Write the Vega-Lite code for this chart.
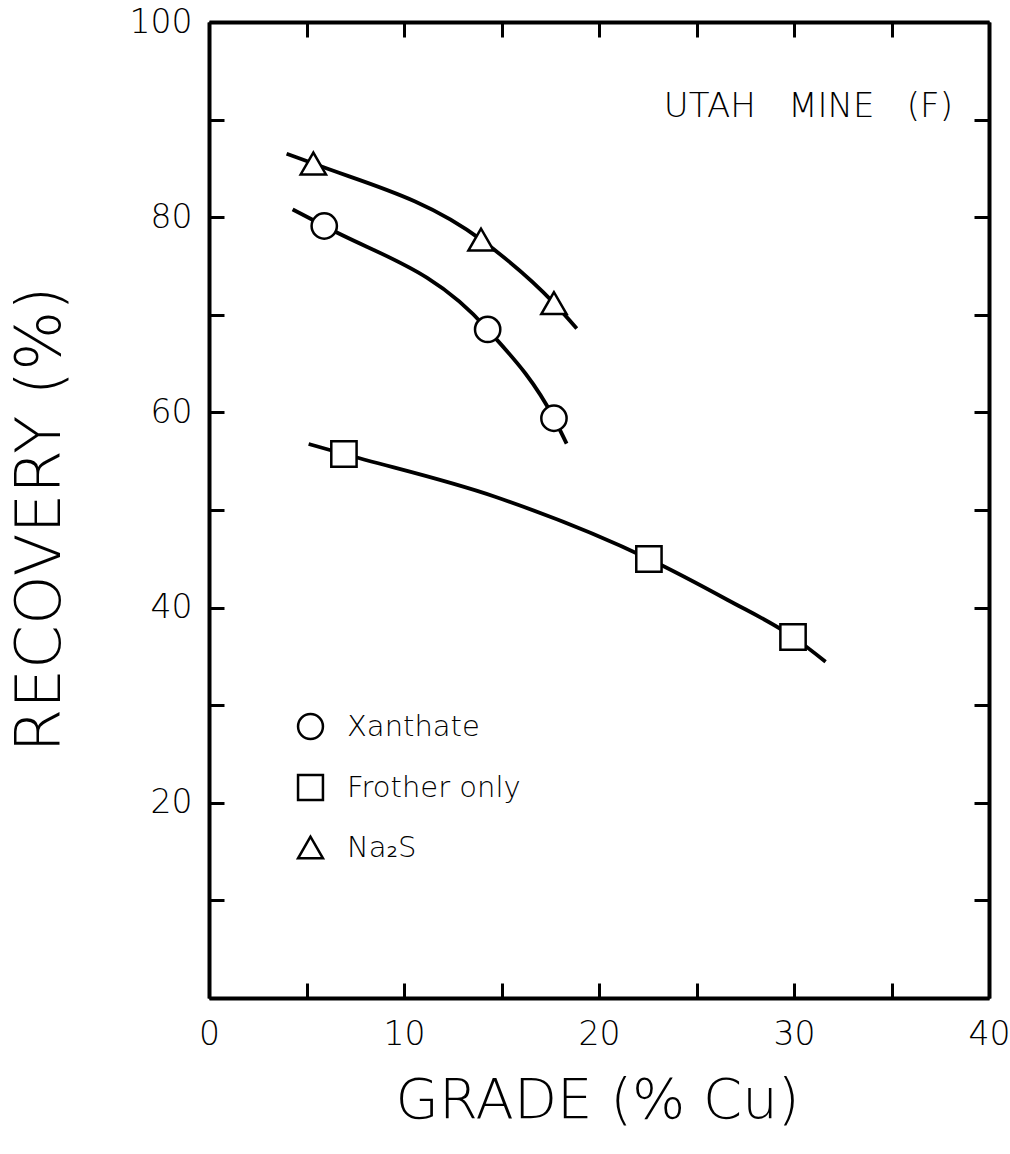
{
  "$schema": "https://vega.github.io/schema/vega-lite/v6.json",
  "width": 780,
  "height": 976,
  "autosize": {"type": "none"},
  "padding": {"left": 209, "top": 22, "right": 21, "bottom": 156},
  "background": "white",
  "config": {
    "view": {"stroke": null},
    "axis": {
      "domainColor": "black",
      "domainWidth": 4,
      "tickColor": "black",
      "tickWidth": 3,
      "tickSize": -15,
      "grid": false,
      "labelFlush": false,
      "labelColor": "black",
      "titleColor": "black",
      "labelFont": "DejaVu Sans",
      "labelFontWeight": 200,
      "labelFontSize": 33,
      "titleFont": "DejaVu Sans",
      "titleFontWeight": 200
    },
    "legend": {
      "orient": "none",
      "legendX": 87,
      "legendY": 690,
      "labelFont": "DejaVu Sans",
      "labelFontWeight": 200,
      "labelFontSize": 29,
      "labelColor": "black",
      "labelLimit": 400,
      "rowPadding": 26,
      "labelOffset": 22
    }
  },
  "datasets": {
    "curves": [
      {"reagent": "Xanthate", "grade": 4.29, "recovery": 80.8},
      {"reagent": "Xanthate", "grade": 5.91, "recovery": 79.1},
      {"reagent": "Xanthate", "grade": 14.29, "recovery": 68.5},
      {"reagent": "Xanthate", "grade": 17.69, "recovery": 59.4},
      {"reagent": "Xanthate", "grade": 18.34, "recovery": 56.8},
      {"reagent": "Frother only", "grade": 5.11, "recovery": 56.76},
      {"reagent": "Frother only", "grade": 6.92, "recovery": 55.74},
      {"reagent": "Frother only", "grade": 14.67, "recovery": 51.36},
      {"reagent": "Frother only", "grade": 22.56, "recovery": 44.98},
      {"reagent": "Frother only", "grade": 26.6, "recovery": 40.78},
      {"reagent": "Frother only", "grade": 29.95, "recovery": 36.99},
      {"reagent": "Frother only", "grade": 31.62, "recovery": 34.46},
      {"reagent": "Na₂S", "grade": 3.98, "recovery": 86.5},
      {"reagent": "Na₂S", "grade": 5.35, "recovery": 85.5},
      {"reagent": "Na₂S", "grade": 13.95, "recovery": 77.7},
      {"reagent": "Na₂S", "grade": 17.69, "recovery": 71.2},
      {"reagent": "Na₂S", "grade": 18.86, "recovery": 68.6}
    ],
    "points": [
      {"reagent": "Xanthate", "grade": 5.91, "recovery": 79.1},
      {"reagent": "Xanthate", "grade": 14.29, "recovery": 68.5},
      {"reagent": "Xanthate", "grade": 17.69, "recovery": 59.4},
      {"reagent": "Frother only", "grade": 6.92, "recovery": 55.74},
      {"reagent": "Frother only", "grade": 22.56, "recovery": 44.98},
      {"reagent": "Frother only", "grade": 29.95, "recovery": 36.99},
      {"reagent": "Na₂S", "grade": 5.35, "recovery": 85.5},
      {"reagent": "Na₂S", "grade": 13.95, "recovery": 77.7},
      {"reagent": "Na₂S", "grade": 17.69, "recovery": 71.2}
    ],
    "notes": [
      {"note": "UTAH\u00a0\u00a0\u00a0MINE\u00a0\u00a0\u00a0(F)", "grade": 38.15, "recovery": 91.3}
    ]
  },
  "layer": [
    {
      "data": {"name": "curves"},
      "mark": {"type": "line", "interpolate": "monotone", "color": "black", "strokeWidth": 3.8},
      "encoding": {
        "x": {"field": "grade", "type": "quantitative", "scale": {"domain": [0, 40]},
              "axis": {"orient": "top", "values": [0, 5, 10, 15, 20, 25, 30, 35, 40], "labels": false, "title": null}},
        "y": {"field": "recovery", "type": "quantitative", "scale": {"domain": [0, 100]},
              "axis": {"orient": "right", "values": [0, 10, 20, 30, 40, 50, 60, 70, 80, 90, 100], "labels": false, "title": null}},
        "detail": {"field": "reagent"}
      }
    },
    {
      "data": {"name": "points"},
      "mark": {"type": "point", "filled": false, "fill": "white", "fillOpacity": 1, "stroke": "black", "strokeWidth": 2.5, "size": 640},
      "encoding": {
        "x": {"field": "grade", "type": "quantitative", "scale": {"domain": [0, 40]},
              "axis": {"orient": "bottom", "values": [0, 5, 10, 15, 20, 25, 30, 35, 40],
                       "labelExpr": "datum.value % 10 === 0 ? datum.label : ''",
                       "labelPadding": 35, "title": "GRADE (% Cu)", "titleFontSize": 56,
                       "titleX": 388, "titleY": 102, "titleBaseline": "middle", "titleAlign": "center"}},
        "y": {"field": "recovery", "type": "quantitative", "scale": {"domain": [0, 100]},
              "axis": {"orient": "left", "values": [0, 10, 20, 30, 40, 50, 60, 70, 80, 90, 100],
                       "labelExpr": "datum.value % 20 === 0 && datum.value > 0 ? datum.label : ''",
                       "labelPadding": 32, "title": "RECOVERY (%)", "titleFontSize": 63,
                       "titleX": -169, "titleY": 497, "titleAngle": -90, "titleBaseline": "middle", "titleAlign": "center"}},
        "shape": {"field": "reagent", "type": "nominal",
                  "scale": {"domain": ["Xanthate", "Frother only", "Na₂S"], "range": ["circle", "square", "triangle-up"]},
                  "legend": {"title": null, "symbolSize": 620, "symbolStrokeWidth": 2.5}}
      }
    },
    {
      "data": {"name": "notes"},
      "mark": {"type": "text", "align": "right", "baseline": "middle", "font": "DejaVu Sans", "fontSize": 34, "fontWeight": 200, "color": "black"},
      "encoding": {
        "x": {"field": "grade", "type": "quantitative", "scale": {"domain": [0, 40]}, "axis": null},
        "y": {"field": "recovery", "type": "quantitative", "scale": {"domain": [0, 100]}, "axis": null},
        "text": {"field": "note"}
      }
    }
  ],
  "resolve": {"axis": {"x": "independent", "y": "independent"}}
}
